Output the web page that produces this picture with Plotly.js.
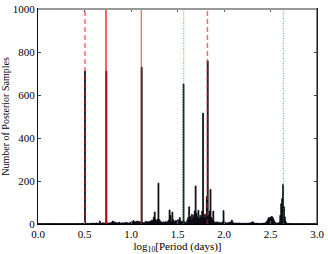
<!DOCTYPE html>
<html>
<head>
<meta charset="utf-8">
<script src="https://cdn.plot.ly/plotly-3.0.1.min.js"></script>
<style>html,body{margin:0;padding:0;background:#fff;}#chart{width:328px;height:254px;}</style>
</head>
<body>
<div id="chart"></div>
<script>
// Histogram: bins of width 0.01 in log10(Period) starting at 0.00
const binStart = 0.0;
const binWidth = 0.01;
const counts = [
  2,1,2,1,1,2,1,1,2,1,
  1,2,1,1,2,1,2,1,1,2,
  1,1,2,1,2,1,1,2,1,1,
  2,1,1,2,1,2,1,1,2,1,
  1,2,1,1,2,1,2,3,2,1,
  711,2,3,2,1,2,3,2,4,3,
  2,3,5,3,2,4,14,3,2,6,
  3,4,5,711,5,3,4,6,3,8,
  14,10,6,8,5,4,6,8,3,5,
  4,6,3,5,8,4,6,3,5,7,
  9,8,16,12,10,6,14,8,12,10,
  6,729,8,5,6,10,12,8,11,9,
  12,14,18,16,32,56,20,14,22,190,
  20,14,8,6,10,5,8,12,6,10,
  18,65,40,12,55,20,10,14,16,12,
  20,10,30,15,8,12,651,10,8,6,
  18,30,80,35,20,45,25,40,60,177,
  50,30,64,25,40,30,60,515,25,45,
  30,127,758,40,60,161,30,20,60,10,
  8,6,10,5,8,4,6,5,10,62,
  12,6,5,4,6,8,6,10,18,8,
  4,3,5,3,4,3,5,3,2,4,
  3,2,4,3,2,4,3,5,4,6,
  10,8,5,3,2,4,3,2,3,2,
  3,2,4,3,6,8,15,25,30,28,
  33,35,30,20,10,6,4,3,5,8,
  40,94,118,183,80,33,10,3,2,2,
  2,1,2,1,1,2,1,1,2,1,
  1,2,1,1,1,2,1,1,1,2,
  1,1,2,1,1,1,2,1,1,1
];
const binCenters = counts.map((c, i) => binStart + binWidth * (i + 0.5));

// Marked periods (log10 days)
const solidRedLines = [0.731, 1.111];
const dashedRedLines = [0.505, 1.822];
const dottedGreenLines = [1.567, 2.638];

const xTicks = [0.0, 0.5, 1.0, 1.5, 2.0, 2.5, 3.0];
const xTickLabels = ["0.0", "0.5", "1.0", "1.5", "2.0", "2.5", "3.0"];
const yTicks = [0, 200, 400, 600, 800, 1000];
const yMax = 1000;

const traces = [{
  type: 'bar',
  x: binCenters,
  y: counts,
  width: binWidth,
  marker: {color: '#0a0a14', line: {color: '#0a0a14', width: 0.8}},
  hoverinfo: 'skip'
}];

function vline(xv, color, dash, width) {
  return {type: 'scatter', mode: 'lines', x: [xv, xv], y: [0, yMax],
    line: {color: color, dash: dash, width: width}, hoverinfo: 'skip'};
}
solidRedLines.forEach((v, i) => traces.push(vline(v, i === 0 ? 'rgba(255,0,0,0.95)' : 'rgba(255,0,0,0.6)', 'solid', 1.3)));
dashedRedLines.forEach(v => traces.push(vline(v, 'rgba(255,0,0,0.6)', '5px,3px', 1.5)));
dottedGreenLines.forEach(v => traces.push(vline(v, 'rgba(40,170,40,0.75)', '1px,1.5px', 1.1)));

const serif = 'Liberation Serif, DejaVu Serif, serif';
const layout = {
  width: 328, height: 254,
  margin: {l: 38, r: 11, t: 9, b: 30},
  paper_bgcolor: '#fff', plot_bgcolor: '#fff',
  showlegend: false,
  bargap: 0,
  font: {family: serif, color: '#000', size: 11},
  xaxis: {
    range: [0, 3], tickvals: xTicks, ticktext: xTickLabels,
    ticks: 'inside', ticklen: 3, tickcolor: '#666', mirror: 'ticks',
    showline: true, linecolor: '#000', linewidth: 1,
    showgrid: false, zeroline: false,
    tickfont: {family: serif, size: 11},
    title: {text: 'log<sub>10</sub>[Period (days)]', font: {family: serif, size: 11}, standoff: 2}
  },
  yaxis: {
    range: [0, yMax], tickvals: yTicks,
    ticks: 'inside', ticklen: 3, tickcolor: '#444', mirror: 'ticks',
    showline: true, linecolor: '#111', linewidth: 1,
    showgrid: false, zeroline: false,
    tickfont: {family: serif, size: 11},
    title: {text: 'Number of Posterior Samples', font: {family: serif, size: 10}, standoff: 4}
  },
  shapes: [
    {type: 'line', xref: 'paper', yref: 'paper', x0: 0, x1: 1, y0: 1, y1: 1, line: {color: '#999', width: 2}},
    {type: 'line', xref: 'paper', yref: 'paper', x0: 1, x1: 1, y0: 0, y1: 1, line: {color: '#333', width: 1.2}}
  ]
};

Plotly.newPlot('chart', traces, layout, {staticPlot: true, displayModeBar: false});
</script>
</body>
</html>
